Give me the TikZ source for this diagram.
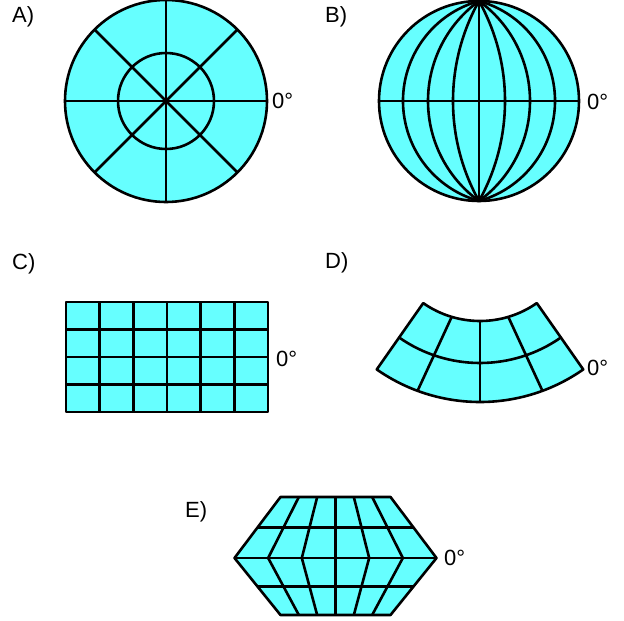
\documentclass[tikz,border=0pt]{standalone}
\usepackage{fontspec}
\setmainfont{Liberation Sans}
\usetikzlibrary{calc}
\definecolor{mapCyan}{HTML}{66FFFF}

\begin{document}
\begin{tikzpicture}[
  x=1pt, y=-1pt,
  map/.style={
    draw=black,
    line width=2.6pt,
    fill=mapCyan,
    line join=round
  },
  grid/.style={draw=black, line width=2.6pt},
  panel/.style={font=\fontsize{22}{26}\selectfont, inner sep=0pt, anchor=base west},
  lat/.style={panel}
]
  \useasboundingbox (0,0) rectangle (624,621);

  % A) polar view
  \begin{scope}[shift={(166,101)}]
    \draw[map] (0,0) circle[radius=101];
    \draw[grid] (0,0) circle[radius=48];
    \foreach \a in {0,45,90,135}
      \draw[grid] (\a:101) -- (\a+180:101);
  \end{scope}
  \node[panel] (labA) at (12,22) {A)};
  \node[lat] (degA) at (272,108) {0°};

  % B) globe view, meridians as circular arcs through the poles
  \begin{scope}[shift={(479,101)}]
    \draw[map] (0,0) circle[radius=100];
    \foreach \w in {26,51,76} {
      \pgfmathsetmacro\R{(\w*\w+10000)/(2*\w)}
      \pgfmathsetmacro\t{asin(100/\R)}
      \draw[grid] (0,-100) arc[start angle=-\t, end angle=\t, radius=\R];
      \draw[grid] (0,-100) arc[start angle=180+\t, end angle=180-\t, radius=\R];
    }
    \draw[grid] (0,-100) -- (0,100);
    \draw[grid] (-100,0) -- (100,0);
  \end{scope}
  \node[panel] (labB) at (325,22) {B)};
  \node[lat] (degB) at (587,109) {0°};

  % C) cylinder
  \coordinate (cTL) at (66,302);
  \coordinate (cTR) at (268,302);
  \coordinate (cBL) at (66,412);
  \coordinate (cBR) at (268,412);
  \draw[map] (cTL) rectangle (cBR);
  \foreach \i in {1,...,5}
    \draw[grid] ($(cTL)!\i/6!(cTR)$) -- ($(cBL)!\i/6!(cBR)$);
  \foreach \j in {1,2,3}
    \draw[grid] ($(cTL)!\j/4!(cBL)$) -- ($(cTR)!\j/4!(cBR)$);
  \node[panel] (labC) at (12,269) {C)};
  \node[lat] (degC) at (276,366) {0°};

  % D) cone
  \begin{scope}[shift={(480,222)}]
    \draw[map] (125:99) arc[start angle=125, end angle=55, radius=99]
      -- (55:180) arc[start angle=55, end angle=125, radius=180] -- cycle;
    \draw[grid] (125:141) arc[start angle=125, end angle=55, radius=141];
    \draw[grid] (106.6:99) -- (110.3:180);
    \draw[grid] (90:99) -- (90:180);
    \draw[grid] (73.4:99) -- (69.7:180);
  \end{scope}
  \node[panel] (labD) at (325,268) {D)};
  \node[lat] (degD) at (587,375) {0°};

  % E) hexagon
  \coordinate (eTL) at (280.5,497);
  \coordinate (eTR) at (390.5,497);
  \coordinate (eR) at (436.5,558);
  \coordinate (eBR) at (390.5,615);
  \coordinate (eBL) at (280.5,615);
  \coordinate (eL) at (234.5,558);
  \draw[map] (eTL) -- (eTR) -- (eR) -- (eBR) -- (eBL) -- (eL) -- cycle;
  \draw[grid] (eL) -- (eR);
  \draw[grid] ($(eTL)!0.5!(eL)$) -- ($(eTR)!0.5!(eR)$);
  \draw[grid] ($(eBL)!0.5!(eL)$) -- ($(eBR)!0.5!(eR)$);
  \foreach \i in {1,...,5}
    \draw[grid, line join=round] ($(eTL)!\i/6!(eTR)$) -- ($(eL)!\i/6!(eR)$)
      -- ($(eBL)!\i/6!(eBR)$);
  \node[panel] (labE) at (185,517) {E)};
  \node[lat] (degE) at (444,565) {0°};
\end{tikzpicture}
\end{document}
